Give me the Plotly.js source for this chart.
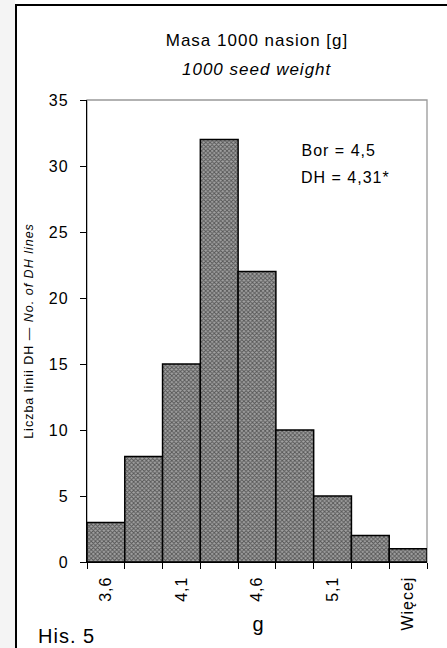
<!DOCTYPE html>
<html>
<head>
<meta charset="utf-8">
<script src="https://cdn.plot.ly/plotly-3.0.1.min.js"></script>
<style>
html,body{margin:0;padding:0;background:#fff;}
#chart{width:447px;height:648px;}
.main-svg text{letter-spacing:1px;}
</style>
</head>
<body>
<div id="chart"></div>
<script>
const categories = ["3,6","3,85","4,1","4,35","4,6","4,85","5,1","5,35","Więcej"];
const counts = [3, 8, 15, 32, 22, 10, 5, 2, 1];
const tickLabels = ["3,6","","4,1","","4,6","","5,1","","Więcej"];
const yTicks = [0,5,10,15,20,25,30,35];
const titleText = "Masa 1000 nasion [g]";
const subtitleText = "1000 seed weight";
const yTitle = "Liczba linii DH — <i>No. of DH lines</i>";
const xTitle = "g";
const statLines = ["Bor = 4,5", "DH = 4,31*"];
const figLabel = "His. 5";

const FONT = "Liberation Sans, Arial, sans-serif";
const L = 87, R = 20, T = 100, B = 86, W = 447, H = 648;
const pw = W - L - R, ph = H - T - B;
const px = x => (x - L) / pw;
const py = y => (H - B - y) / ph;

const trace = {
  type: "bar",
  x: categories,
  y: counts,
  marker: {
    color: "#888",
    line: {color: "#000", width: 1.5},
    pattern: {shape: "x", size: 3, solidity: 0.5, fgcolor: "#555", bgcolor: "#a2a2a2", fillmode: "replace"}
  },
  hoverinfo: "x+y"
};

const layout = {
  width: W, height: H,
  margin: {l: L, r: R, t: T, b: B, pad: 0},
  paper_bgcolor: "#fff",
  plot_bgcolor: "#fff",
  showlegend: false,
  bargap: 0,
  font: {family: FONT, color: "#000", size: 16},
  title: {text: titleText, font: {size: 17, family: FONT}, x: px(257), xanchor: "center", y: 1 - 40 / H, yanchor: "middle", xref: "paper", yref: "container"},
  xaxis: {
    type: "category",
    tickmode: "array",
    tickvals: categories,
    ticktext: tickLabels,
    tickson: "boundaries",
    ticks: "outside", ticklen: 6, tickwidth: 1, tickcolor: "#000",
    tickangle: -90,
    tickfont: {size: 16, family: FONT},
    ticklabelstandoff: 7,
    showline: true, linecolor: "#000", linewidth: 1.2,
    showgrid: false, zeroline: false,
    range: [-0.5, 8.5]
  },
  yaxis: {
    range: [0, 35],
    tickmode: "array",
    tickvals: yTicks,
    ticks: "outside", ticklen: 6, tickwidth: 1, tickcolor: "#000",
    tickfont: {size: 16, family: FONT},
    ticklabelstandoff: 8,
    showline: true, linecolor: "#000", linewidth: 1.2,
    showgrid: false, zeroline: false,
    title: {text: yTitle, font: {size: 12.5, family: FONT}, standoff: 14}
  },
  yaxis2: {
    overlaying: "y", anchor: "x", side: "left",
    range: [0, 35], tickmode: "array", tickvals: yTicks.slice(1),
    ticks: "inside", ticklen: 5, tickwidth: 1, tickcolor: "#000",
    showticklabels: false, showline: false, showgrid: false, zeroline: false
  },
  shapes: [
    {type: "rect", xref: "paper", yref: "paper", x0: px(0), x1: px(15), y0: py(H), y1: py(0), line: {width: 0}, fillcolor: "#f4f4f4", layer: "below"},
    {type: "rect", xref: "paper", yref: "paper", x0: 0, x1: 1, y0: 0, y1: 1, line: {color: "#999", width: 1.3}, fillcolor: "rgba(0,0,0,0)", layer: "below"},
    {type: "line", xref: "paper", yref: "paper", x0: px(16), x1: px(16), y0: py(H + 2), y1: py(5), line: {color: "#000", width: 2}},
    {type: "line", xref: "paper", yref: "paper", x0: px(15), x1: px(W + 2), y0: py(5), y1: py(5), line: {color: "#000", width: 2}}
  ],
  annotations: [
    {text: "<i>" + subtitleText + "</i>", xref: "paper", yref: "paper", x: px(257), y: py(69), xanchor: "center", yanchor: "middle", showarrow: false, font: {size: 17, family: FONT}},
    {text: statLines[0], xref: "paper", yref: "paper", x: px(304), y: py(150.5), xanchor: "left", yanchor: "middle", showarrow: false, font: {size: 16, family: FONT}},
    {text: statLines[1], xref: "paper", yref: "paper", x: px(304), y: py(177.5), xanchor: "left", yanchor: "middle", showarrow: false, font: {size: 16, family: FONT}},
    {text: xTitle, xref: "paper", yref: "paper", x: px(258), y: py(624), xanchor: "center", yanchor: "middle", showarrow: false, font: {size: 20, family: FONT}},
    {text: figLabel, xref: "paper", yref: "paper", x: px(39), y: py(636), xanchor: "left", yanchor: "middle", showarrow: false, font: {size: 20, family: FONT}}
  ]
};

Plotly.newPlot("chart", [trace], layout, {displayModeBar: false, staticPlot: true});
</script>
</body>
</html>
